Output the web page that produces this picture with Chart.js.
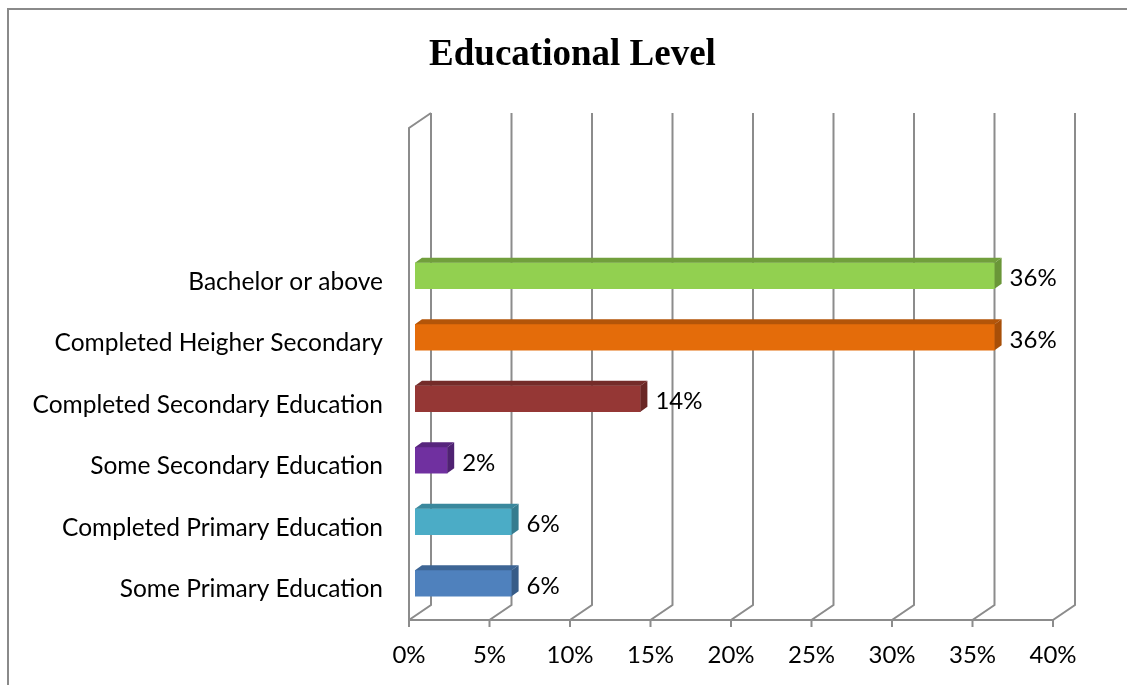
<!DOCTYPE html>
<html lang="en">
<head>
    <meta charset="UTF-8">
    <title>Educational Level</title>
    <script src="https://cdn.jsdelivr.net/npm/chart.js"></script>
    <style>
        body {
            margin: 0;
            background: #ffffff;
        }
        .wrap {
            position: relative;
            width: 1127px;
            height: 685px;
        }
    </style>
</head>
<body>
    <div class="wrap">
        <canvas id="chart" width="1127" height="685"></canvas>
    </div>

    <script>
        // Datos
        const categories = [
            'Bachelor or above',
            'Completed Heigher Secondary',
            'Completed Secondary Education',
            'Some Secondary Education',
            'Completed Primary Education',
            'Some Primary Education'
        ];
        const percentages = [36, 36, 14, 2, 6, 6];
        const xTicks = [0, 5, 10, 15, 20, 25, 30, 35, 40];
        const emptyRows = 2; // dos filas vacías arriba en el eje de categorías

        const frontColors = ['#92D050', '#E46C0A', '#953735', '#7030A0', '#4BACC6', '#4F81BD'];
        const topColors   = ['#719F3C', '#B35509', '#742B29', '#57257D', '#3A889D', '#3D6595'];
        const sideColors  = ['#6A9638', '#A84F08', '#6A2725', '#4F2272', '#357C8F', '#375C88'];

        const labels = Array(emptyRows).fill('').concat(categories);
        const values = Array(emptyRows).fill(null).concat(percentages);
        const pad = c => Array(emptyRows).fill('rgba(0,0,0,0)').concat(c);

        const TITLE = 'Educational Level';
        const LABEL_FONT = "Lato, 'Open Sans', sans-serif";
        const WALL_DX = 22, WALL_DY = -15;   // profundidad de las paredes
        const BAR_FX = 6, BAR_FY = -6;       // desplazamiento de la cara frontal
        const BAR_DX = 7, BAR_DY = -5;       // profundidad de la barra
        const GRID = '#8c8c8c';

        // paredes 3D, suelo, título y marco exterior
        const walls3d = {
            id: 'walls3d',
            beforeDatasetsDraw(chart) {
                const { ctx, chartArea: a, scales: { x } } = chart;
                ctx.save();
                ctx.lineWidth = 2;
                ctx.strokeStyle = '#8a8a8a';
                ctx.beginPath();
                ctx.moveTo(8, 685);
                ctx.lineTo(8, 9);
                ctx.lineTo(1127, 9);
                ctx.stroke();

                ctx.fillStyle = '#000000';
                ctx.font = "bold 37px 'Liberation Serif', 'Times New Roman', serif";
                ctx.textAlign = 'center';
                ctx.textBaseline = 'alphabetic';
                ctx.fillText(TITLE, 572.5, 65);

                ctx.strokeStyle = GRID;
                ctx.beginPath();
                ctx.moveTo(a.left, a.bottom);
                ctx.lineTo(a.left, a.top);
                ctx.lineTo(a.left + WALL_DX, a.top + WALL_DY);
                xTicks.forEach(v => {
                    const px = x.getPixelForValue(v);
                    ctx.moveTo(px, a.bottom + 7);
                    ctx.lineTo(px, a.bottom);
                    ctx.lineTo(px + WALL_DX, a.bottom + WALL_DY);
                    ctx.lineTo(px + WALL_DX, a.top + WALL_DY);
                });
                ctx.moveTo(a.left, a.bottom);
                ctx.lineTo(a.right, a.bottom);
                ctx.stroke();

                // la cara frontal de las barras se dibuja desplazada
                ctx.save();
                ctx.translate(BAR_FX, BAR_FY);
            },
            afterDatasetsDraw(chart) {
                const { ctx } = chart;
                ctx.restore();
                const meta = chart.getDatasetMeta(0);
                meta.data.forEach((el, i) => {
                    const v = values[i];
                    if (v === null) return;
                    const c = i - emptyRows;
                    const left = el.base + BAR_FX;
                    const right = el.x + BAR_FX;
                    const top = el.y - el.height / 2 + BAR_FY;
                    const bottom = el.y + el.height / 2 + BAR_FY;

                    ctx.fillStyle = topColors[c];
                    ctx.beginPath();
                    ctx.moveTo(left, top);
                    ctx.lineTo(left + BAR_DX, top + BAR_DY);
                    ctx.lineTo(right + BAR_DX, top + BAR_DY);
                    ctx.lineTo(right, top);
                    ctx.closePath();
                    ctx.fill();

                    ctx.fillStyle = sideColors[c];
                    ctx.beginPath();
                    ctx.moveTo(right, top);
                    ctx.lineTo(right + BAR_DX, top + BAR_DY);
                    ctx.lineTo(right + BAR_DX, bottom + BAR_DY);
                    ctx.lineTo(right, bottom);
                    ctx.closePath();
                    ctx.fill();

                    ctx.fillStyle = '#000000';
                    ctx.font = '24px ' + LABEL_FONT;
                    ctx.textAlign = 'left';
                    ctx.textBaseline = 'middle';
                    ctx.fillText(v + '%', right + BAR_DX + 8, el.y - 3);
                });
                ctx.restore();
            }
        };

        const ctx = document.getElementById('chart').getContext('2d');
        new Chart(ctx, {
            type: 'bar',
            data: {
                labels: labels,
                datasets: [{
                    data: values,
                    backgroundColor: pad(frontColors),
                    borderWidth: 0,
                    barThickness: 26
                }]
            },
            options: {
                indexAxis: 'y',
                responsive: false,
                animation: false,
                devicePixelRatio: 1,
                layout: {
                    padding: { left: 0, right: 74, top: 128, bottom: 10 }
                },
                plugins: {
                    legend: { display: false },
                    tooltip: { enabled: false },
                    title: { display: false }
                },
                scales: {
                    x: {
                        type: 'linear',
                        min: 0,
                        max: 40,
                        grid: { display: false },
                        border: { display: false },
                        ticks: {
                            stepSize: 5,
                            padding: 13,
                            color: '#000000',
                            font: { family: LABEL_FONT, size: 24 },
                            callback: v => v + '%'
                        },
                        afterFit: s => { s.height = 55; }
                    },
                    y: {
                        type: 'category',
                        grid: { display: false },
                        border: { display: false },
                        ticks: {
                            padding: 18,
                            color: '#000000',
                            font: { family: LABEL_FONT, size: 24.5 }
                        },
                        afterFit: s => { s.width = 409; }
                    }
                }
            },
            plugins: [walls3d]
        });
    </script>
</body>
</html>
